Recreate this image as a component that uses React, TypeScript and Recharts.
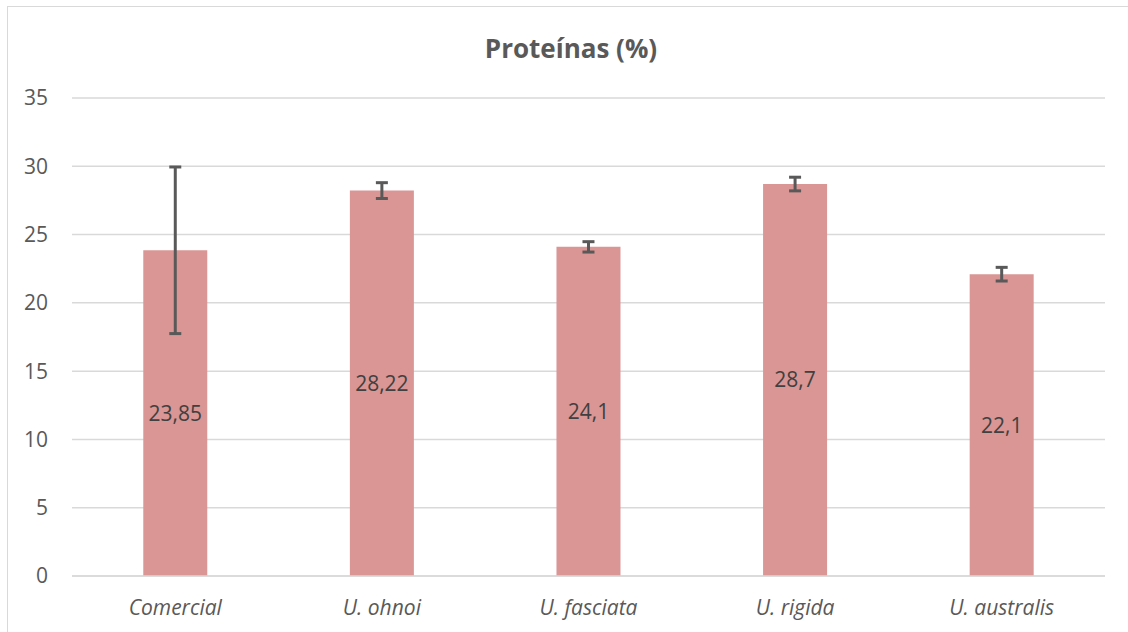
import React from "react";
import { BarChart, Bar, XAxis, YAxis, CartesianGrid, ErrorBar, LabelList } from "recharts";

const categories = ["Comercial", "U. ohnoi", "U. fasciata", "U. rigida", "U. australis"];
const proteinValues = [23.85, 28.22, 24.1, 28.7, 22.1];
const proteinErrors = [6.1, 0.58, 0.38, 0.5, 0.5];
const yTicks = [0, 5, 10, 15, 20, 25, 30, 35];
const chartTitle = "Proteínas (%)";

const data = categories.map((name, i) => ({ name, value: proteinValues[i], err: proteinErrors[i] }));

const FONT = "'Open Sans', Lato, sans-serif";

export default function App() {
  return (
    <div style={{ position: "absolute", left: 0, top: 0, width: 1128, height: 632, background: "#fff", overflow: "hidden", fontFamily: FONT }}>
      <div style={{ position: "absolute", left: 7, top: 6, width: 1200, height: 700, borderLeft: "1.5px solid #D9D9D9", borderTop: "1.5px solid #D9D9D9" }} />
      <div style={{ position: "absolute", left: 0, top: 30, width: 1142, textAlign: "center", fontSize: 26, lineHeight: "36px", fontWeight: 700, color: "#595959", fontFamily: FONT }}>
        {chartTitle}
      </div>
      <div style={{ position: "absolute", left: 0, top: 0 }}>
        <BarChart width={1128} height={632} data={data} margin={{ top: 98, right: 23, bottom: 26, left: 0 }} barCategoryGap="34.5%">
          <CartesianGrid vertical={false} stroke="#D9D9D9" strokeWidth={1.5} />
          <XAxis
            dataKey="name"
            height={30}
            axisLine={{ stroke: "#D9D9D9", strokeWidth: 1.5 }}
            tickLine={false}
            tick={{ fill: "#595959", fontSize: 21, fontStyle: "italic", fontFamily: FONT }}
            tickMargin={18}
          />
          <YAxis
            width={72}
            domain={[0, 35]}
            ticks={yTicks}
            axisLine={false}
            tickLine={false}
            tick={{ fill: "#595959", fontSize: 21, fontFamily: FONT }}
            tickMargin={18}
          />
          <Bar dataKey="value" fill="#D99694" isAnimationActive={false}>
            <ErrorBar dataKey="err" direction="y" width={6} strokeWidth={3} stroke="#595959" />
            <LabelList
              dataKey="value"
              position="center"
              formatter={(v: any) => String(v).replace(".", ",")}
              style={{ fill: "#404040", fontSize: 21, fontFamily: FONT }}
            />
          </Bar>
        </BarChart>
      </div>
    </div>
  );
}
